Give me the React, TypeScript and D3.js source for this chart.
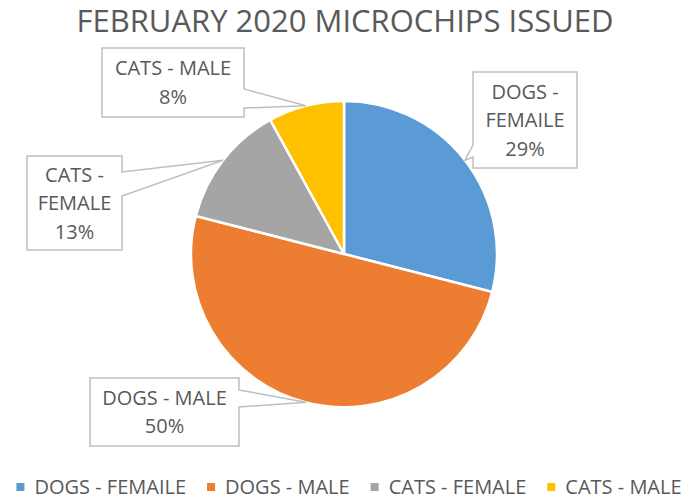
import React, { useRef, useEffect } from 'react';
import * as d3 from 'd3';

// Chart data
const categories = ['DOGS - FEMAILE', 'DOGS - MALE', 'CATS - FEMALE', 'CATS - MALE'];
const values = [29, 50, 13, 8];
const labelLines = [['DOGS -', 'FEMAILE'], ['DOGS - MALE'], ['CATS -', 'FEMALE'], ['CATS - MALE']];
const colors = ['#5B9BD5', '#ED7D31', '#A5A5A5', '#FFC000'];
const title = 'FEBRUARY 2020 MICROCHIPS ISSUED';

// Callout box layout (box rect + where the pointer leaves the box)
const calloutLayout = [
  { x: 473, y: 72, w: 104, h: 96, side: 'left', n0: 145, n1: 157 },
  { x: 90, y: 378, w: 149, h: 68, side: 'right', n0: 390, n1: 407 },
  { x: 27, y: 156, w: 95, h: 94, side: 'right', n0: 172, n1: 196 },
  { x: 102, y: 48, w: 142, h: 69, side: 'right', n0: 89, n1: 108 },
];

type Datum = { name: string; value: number; color: string; lines: string[] };

const width = 688;
const height = 499;
const FONT = '"Open Sans", "Noto Sans", sans-serif';
const TEXT = '#595959';

const App: React.FC = () => {
  const ref = useRef<SVGSVGElement | null>(null);

  useEffect(() => {
    if (!ref.current) return;
    const svg = d3.select(ref.current);
    svg.selectAll('*').remove();

    const data: Datum[] = categories.map((name, i) => ({
      name,
      value: values[i],
      color: colors[i],
      lines: labelLines[i],
    }));
    const total = d3.sum(values);
    const pct = d3.format('.0%');

    svg.append('rect').attr('width', width).attr('height', height).attr('fill', '#ffffff');

    // Title
    svg.append('text')
      .attr('x', 345)
      .attr('y', 32)
      .attr('text-anchor', 'middle')
      .attr('font-family', FONT)
      .attr('font-size', 31)
      .attr('fill', TEXT)
      .text(title);

    // Pie
    const cx = 344;
    const cy = 254;
    const r = 153;
    const pie = d3.pie<Datum>().sort(null).value((d) => d.value);
    const arcs = pie(data);
    const arc = d3.arc<d3.PieArcDatum<Datum>>().innerRadius(0).outerRadius(r);

    const g = svg.append('g').attr('transform', `translate(${cx},${cy})`);
    g.selectAll('path.slice')
      .data(arcs)
      .join('path')
      .attr('class', 'slice')
      .attr('d', arc)
      .attr('fill', (d) => d.data.color)
      .attr('stroke', '#ffffff')
      .attr('stroke-width', 2.5)
      .attr('stroke-linejoin', 'round');

    // Callouts: box with a pointer to the slice edge at its mid angle
    arcs.forEach((a, i) => {
      const L = calloutLayout[i];
      const mid = (a.startAngle + a.endAngle) / 2;
      const ax = cx + r * Math.sin(mid);
      const ay = cy - r * Math.cos(mid);
      let d: string;
      if (L.side === 'right') {
        d = `M${L.x},${L.y}H${L.x + L.w}V${L.n0}L${ax},${ay}L${L.x + L.w},${L.n1}V${L.y + L.h}H${L.x}Z`;
      } else {
        d = `M${L.x},${L.y}H${L.x + L.w}V${L.y + L.h}H${L.x}V${L.n1}L${ax},${ay}L${L.x},${L.n0}Z`;
      }
      svg.append('path')
        .attr('d', d)
        .attr('fill', '#ffffff')
        .attr('stroke', '#BFBFBF')
        .attr('stroke-width', 1.5)
        .attr('stroke-linejoin', 'miter');

      const lines = [...a.data.lines, pct(a.data.value / total)];
      const mx = L.x + L.w / 2;
      const my = L.y + L.h / 2;
      const step = 28.5;
      lines.forEach((line, j) => {
        svg.append('text')
          .attr('x', mx)
          .attr('y', my + (j - (lines.length - 1) / 2) * step)
          .attr('dy', '0.36em')
          .attr('text-anchor', 'middle')
          .attr('font-family', FONT)
          .attr('font-size', 20)
          .attr('fill', TEXT)
          .text(line);
      });
    });

    // Legend
    const legend = svg.append('g');
    const items = legend.selectAll('g.item')
      .data(data)
      .join('g')
      .attr('class', 'item');
    items.append('rect')
      .attr('width', 8)
      .attr('height', 8)
      .attr('y', -4)
      .attr('fill', (d) => d.color);
    items.append('text')
      .attr('x', 18)
      .attr('dy', '0.36em')
      .attr('font-family', FONT)
      .attr('font-size', 20)
      .attr('fill', TEXT)
      .text((d) => d.name);

    const widths: number[] = [];
    items.select<SVGTextElement>('text').each(function () {
      widths.push(this.getComputedTextLength() + 18);
    });
    const gap = 21;
    const totalW = d3.sum(widths) + gap * (widths.length - 1);
    let x = 349 - totalW / 2;
    items.attr('transform', (_d, i) => {
      const t = `translate(${x},487)`;
      x += widths[i] + gap;
      return t;
    });
  }, []);

  return (
    <div style={{ position: 'fixed', left: 0, top: 0 }}>
      <svg ref={ref} width={width} height={height} style={{ display: 'block' }} />
    </div>
  );
};

export default App;
